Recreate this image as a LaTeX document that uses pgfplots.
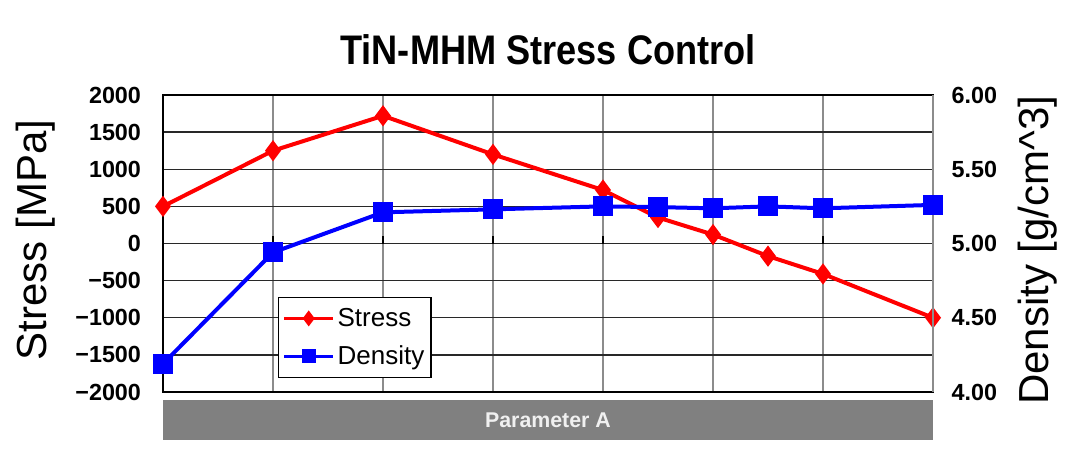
\documentclass[border=0pt]{standalone}
\usepackage{pgfplots}
\pgfplotsset{compat=1.18}
\usepackage{fontspec}
\setmainfont{Liberation Sans}
\newfontfamily\titlefont{Liberation Sans}[FakeStretch=0.875]
\definecolor{barGray}{RGB}{128,128,128}
\definecolor{myred}{RGB}{255,0,0}
\definecolor{myblue}{RGB}{0,0,255}
\definecolor{vgrid}{RGB}{140,140,140}
\definecolor{hgrid}{RGB}{40,40,40}
\definecolor{bartext}{RGB}{240,240,240}

\pgfplotstableread{
x stress
0 500
1 1250
2 1720
3 1200
4 720
4.5 350
5 120
5.5 -170
6 -410
7 -1000
}\stressdata

\pgfplotstableread{
x density
0 4.19
1 4.94
2 5.21
3 5.23
4 5.25
4.5 5.245
5 5.237
5.5 5.25
6 5.237
7 5.26
}\densitydata

\begin{document}
\begin{tikzpicture}
\path[use as bounding box] (0,0) rectangle (810pt,348.75pt);

\node[font=\titlefont\bfseries\fontsize{31}{34}\selectfont, anchor=base] at (411pt,300pt) {TiN-MHM Stress Control};

\begin{axis}[
  at={(122.25pt,54.75pt)}, anchor=south west,
  scale only axis, width=577.5pt, height=222.75pt,
  xmin=0, xmax=7, ymin=-2000, ymax=2000,
  xtick={0,...,7}, xticklabels={},
  ytick={-2000,-1500,...,2000},
  yticklabels={−2000,−1500,−1000,−500,0,500,1000,1500,2000},
  major tick length=0,
  xmajorgrids, ymajorgrids,
  x grid style={vgrid, line width=1.1pt},
  y grid style={hgrid, line width=1.1pt},
  axis line style={black, line width=1.2pt},
  yticklabel style={font=\fontsize{17.5}{20}\bfseries\selectfont, xshift=-13pt},
  clip=false,
]
\fill[barGray] (rel axis cs:0,-0.027) rectangle (rel axis cs:1,-0.162);
\node[text=bartext, font=\fontsize{16}{18}\bfseries\selectfont] at (rel axis cs:0.5,-0.0945) {Parameter A};
\pgfplotsinvokeforeach{1,...,6}{\draw[black, line width=1.2pt] (axis cs:#1,0) -- ++(0pt,6pt);}
\addplot[myred, line width=3pt, mark=diamond*, mark size=5.5pt, mark options={solid}] table[x=x, y=stress] {\stressdata};
\end{axis}

\begin{axis}[
  at={(122.25pt,54.75pt)}, anchor=south west,
  scale only axis, width=577.5pt, height=222.75pt,
  xmin=0, xmax=7, ymin=4, ymax=6,
  axis x line=none, axis y line*=right,
  y axis line style={vgrid, line width=1.2pt},
  ytick={4,4.5,5,5.5,6},
  yticklabels={4.00,4.50,5.00,5.50,6.00},
  major tick length=0,
  yticklabel style={font=\fontsize{17.5}{20}\bfseries\selectfont, xshift=10.5pt},
  clip=false,
  legend style={at={(rel axis cs:0.149,0.32)}, anchor=north west, draw=black, line width=1.1pt,
    font=\fontsize{19.5}{22}\selectfont, inner xsep=3pt, inner ysep=6pt, row sep=9pt},
  legend cell align=left,
  legend image code/.code={\draw[line width=2.4pt, mark size=4pt, mark repeat=2, mark phase=2] plot coordinates {(0cm,0cm) (0.65cm,0cm) (1.3cm,0cm)};},
]
\addlegendimage{myred, line width=3pt, mark=diamond*, mark size=5.5pt, mark options={solid}}
\addlegendentry{Stress}
\addplot[myblue, line width=3pt, mark=square*, mark size=6pt, mark options={solid}] table[x=x, y=density] {\densitydata};
\addlegendentry{Density}
\end{axis}

\node[rotate=90, font=\fontsize{31.5}{34}\selectfont] at (27pt,168.75pt) {Stress [MPa]};
\node[rotate=90, font=\fontsize{31.5}{34}\selectfont] at (778pt,161pt) {Density [g/cm\textasciicircum 3]};
\end{tikzpicture}
\end{document}
